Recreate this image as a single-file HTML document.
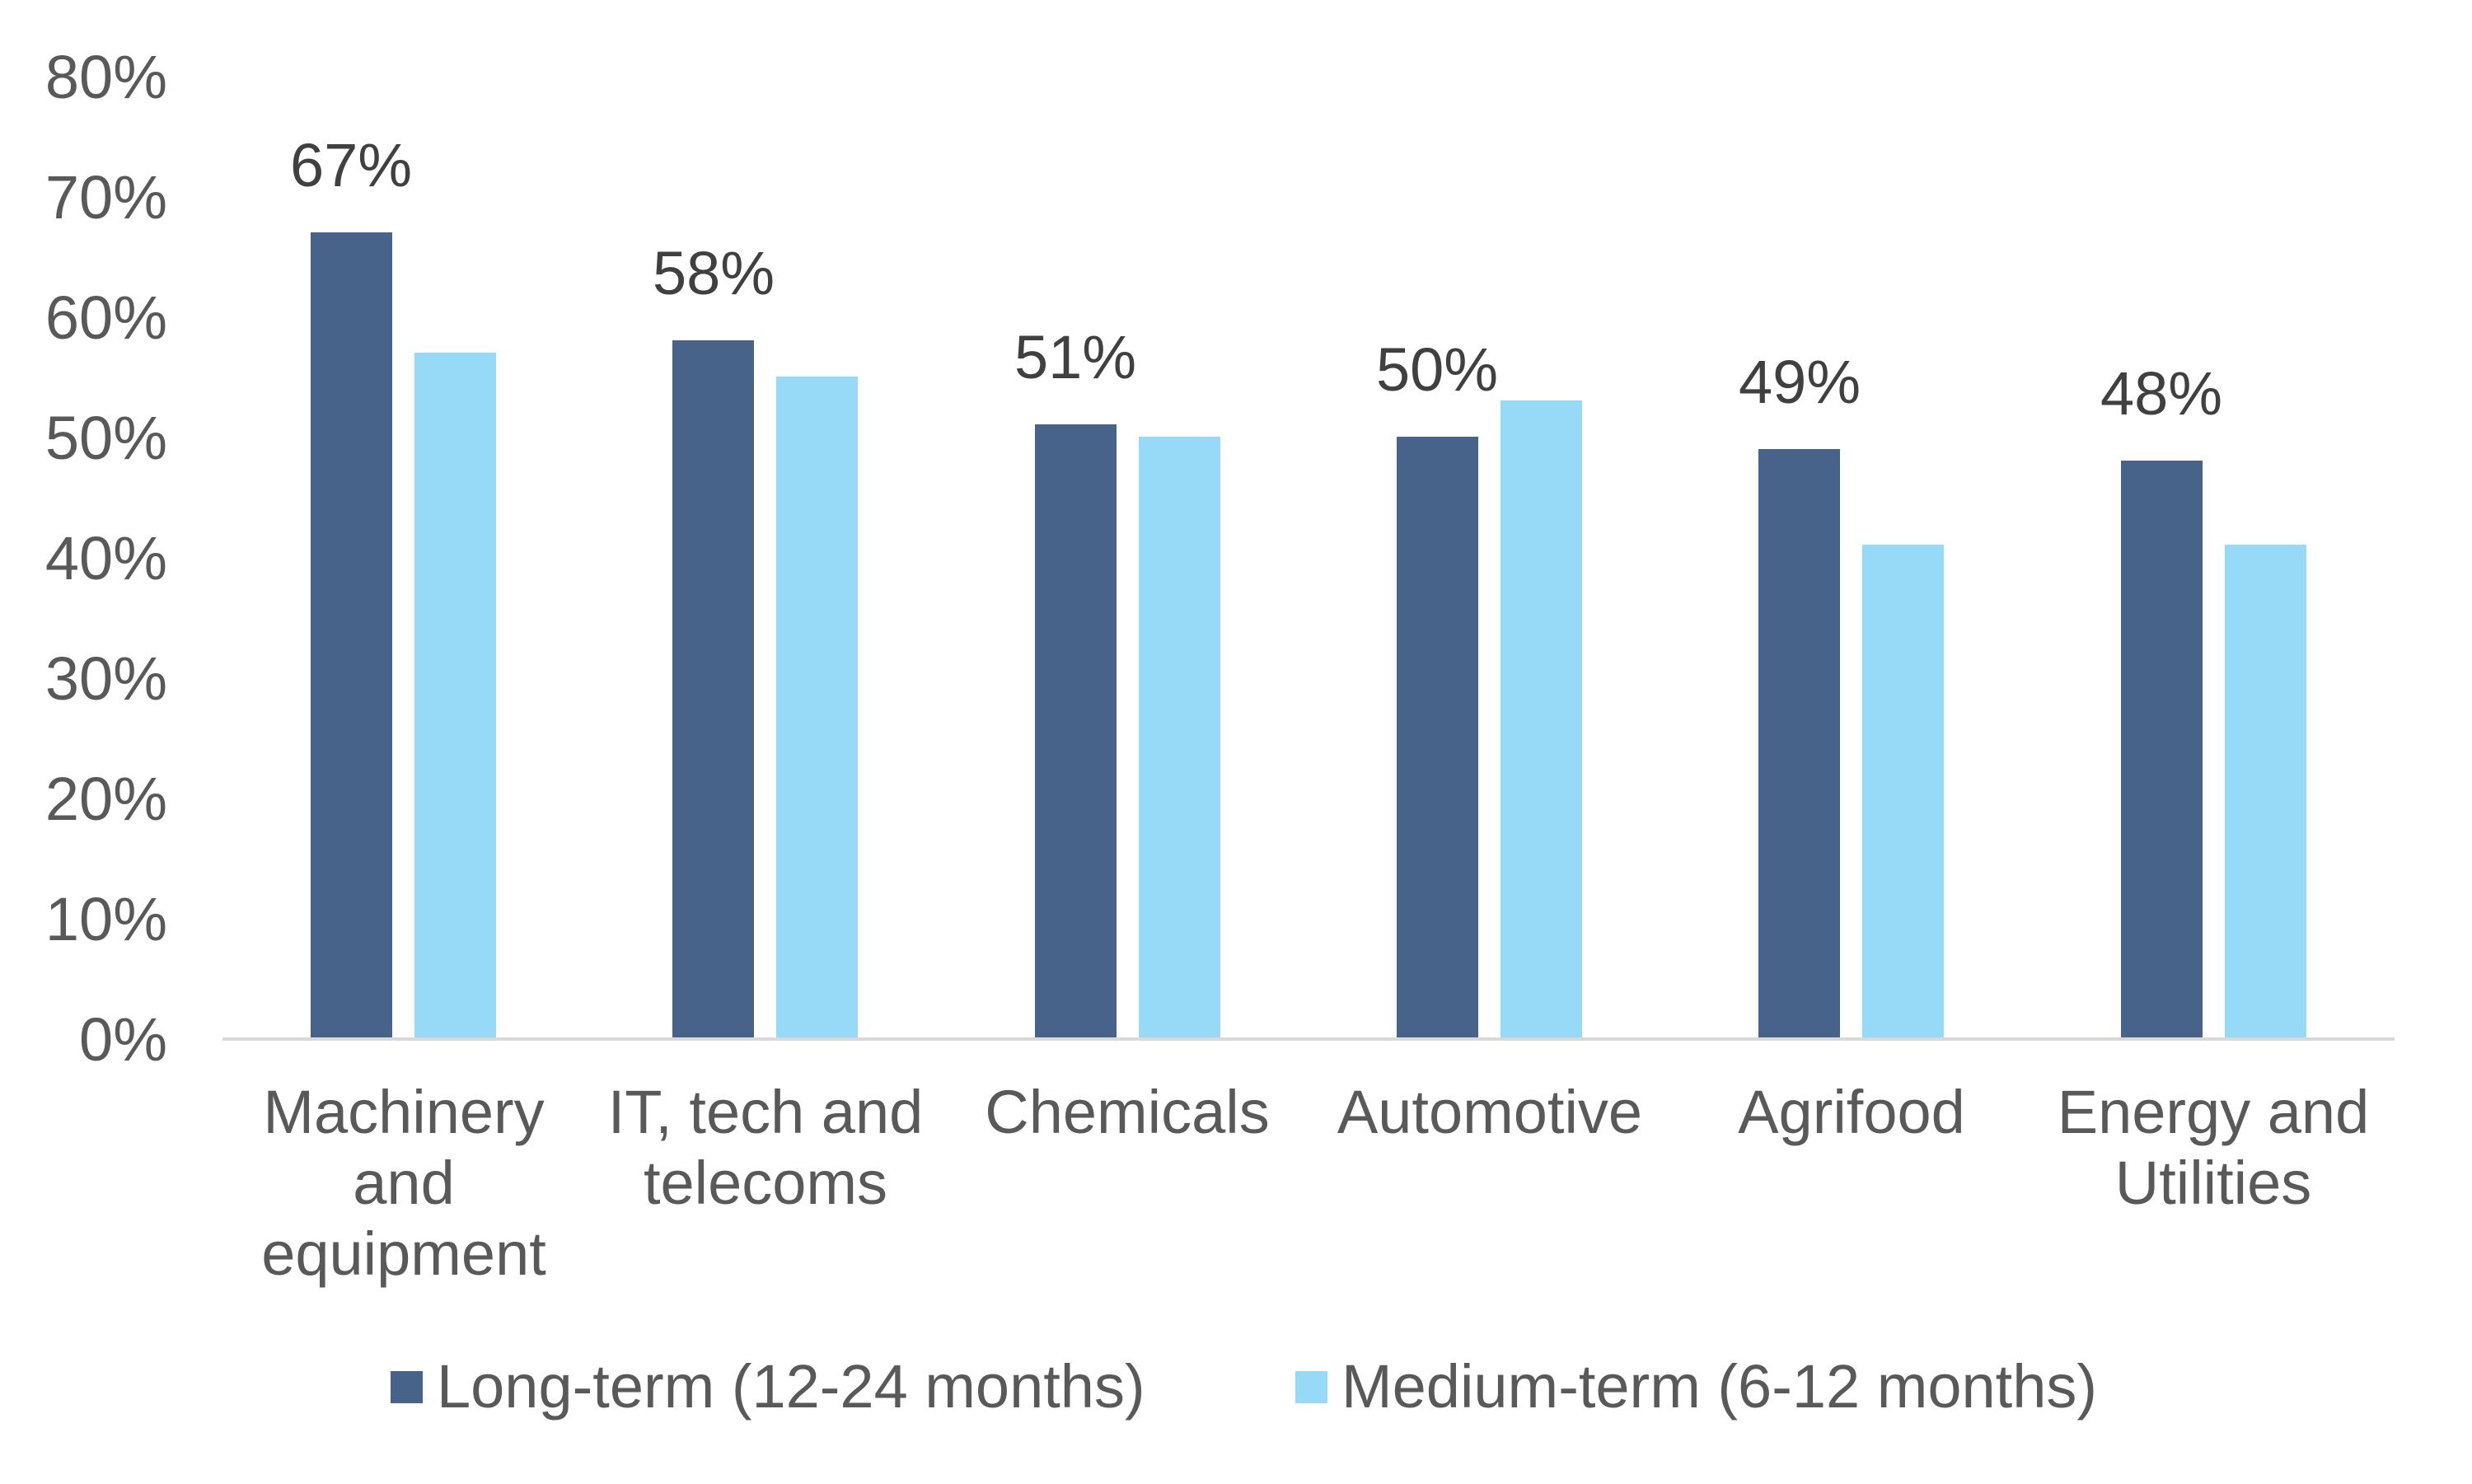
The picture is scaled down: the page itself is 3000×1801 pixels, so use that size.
<!DOCTYPE html>
<html><head><meta charset="utf-8"><style>
html,body{margin:0;padding:0;background:#fff;}
svg{display:block;}
text{font-family:"Liberation Sans",Arial,sans-serif;}
</style></head><body>
<svg width="3000" height="1801" viewBox="0 0 3000 1801" xmlns="http://www.w3.org/2000/svg">
<g font-size="74" fill="#595959" text-anchor="end">
<text x="203" y="1287">0%</text>
<text x="203" y="1141">10%</text>
<text x="203" y="995">20%</text>
<text x="203" y="849">30%</text>
<text x="203" y="703">40%</text>
<text x="203" y="557">50%</text>
<text x="203" y="411">60%</text>
<text x="203" y="265">70%</text>
<text x="203" y="119">80%</text>
</g>
<g fill="#486389">
<rect x="377" y="282" width="99" height="978"/>
<rect x="816" y="413" width="99" height="847"/>
<rect x="1256" y="515" width="99" height="745"/>
<rect x="1695" y="530" width="99" height="730"/>
<rect x="2134" y="545" width="99" height="715"/>
<rect x="2574" y="559" width="99" height="701"/>
</g>
<g fill="#97DAF8">
<rect x="503" y="428" width="99" height="832"/>
<rect x="942" y="457" width="99" height="803"/>
<rect x="1382" y="530" width="99" height="730"/>
<rect x="1821" y="486" width="99" height="774"/>
<rect x="2260" y="661" width="99" height="599"/>
<rect x="2700" y="661" width="99" height="599"/>
</g>
<line x1="270" y1="1261" x2="2906" y2="1261" stroke="#d9d9d9" stroke-width="4"/>
<g font-size="74" fill="#404040" text-anchor="middle">
<text x="426" y="226">67%</text>
<text x="866" y="357">58%</text>
<text x="1305" y="459">51%</text>
<text x="1744" y="474">50%</text>
<text x="2184" y="489">49%</text>
<text x="2623" y="503">48%</text>
</g>
<g font-size="74" fill="#595959" text-anchor="middle">
<text x="490" y="1375">Machinery</text>
<text x="490" y="1461">and</text>
<text x="490" y="1547">equipment</text>
<text x="929" y="1375">IT, tech and</text>
<text x="929" y="1461">telecoms</text>
<text x="1368" y="1375">Chemicals</text>
<text x="1808" y="1375">Automotive</text>
<text x="2247" y="1375">Agrifood</text>
<text x="2686" y="1375">Energy and</text>
<text x="2686" y="1461">Utilities</text>
</g>
<rect x="474" y="1664" width="39" height="39" fill="#486389"/>
<text x="530" y="1708" font-size="74" fill="#595959">Long-term (12-24 months)</text>
<rect x="1572" y="1664" width="39" height="39" fill="#97DAF8"/>
<text x="1628" y="1708" font-size="74" fill="#595959">Medium-term (6-12 months)</text>
</svg>
</body></html>
